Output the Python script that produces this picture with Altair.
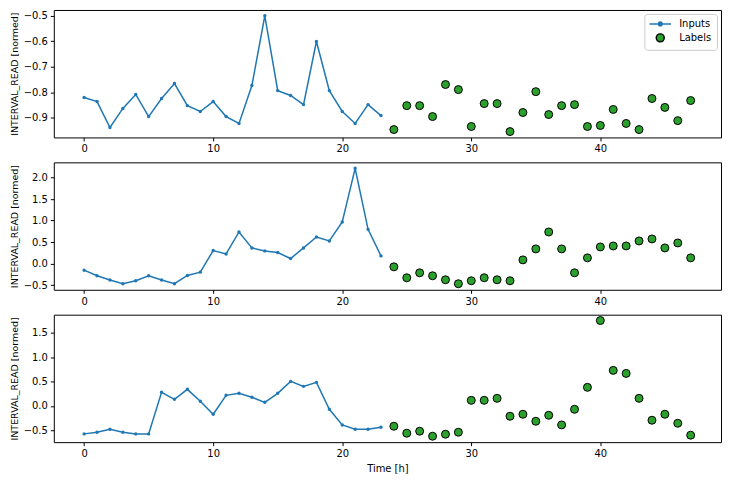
import altair as alt
import pandas as pd

input_hours = [0, 1, 2, 3, 4, 5, 6, 7, 8, 9, 10, 11, 12, 13, 14, 15, 16, 17, 18, 19, 20, 21, 22, 23]
label_hours = [24, 25, 26, 27, 28, 29, 30, 31, 32, 33, 34, 35, 36, 37, 38, 39, 40, 41, 42, 43, 44, 45, 46, 47]

inputs_1 = [-0.821, -0.837, -0.939, -0.864, -0.809, -0.896, -0.825, -0.766, -0.853, -0.876,
            -0.837, -0.896, -0.923, -0.774, -0.500, -0.794, -0.813, -0.849, -0.601, -0.794,
            -0.876, -0.923, -0.849, -0.892]
labels_1 = [-0.947, -0.853, -0.853, -0.896, -0.770, -0.790, -0.935, -0.845, -0.845, -0.955,
            -0.880, -0.798, -0.888, -0.853, -0.849, -0.935, -0.931, -0.868, -0.923, -0.947,
            -0.825, -0.860, -0.912, -0.833]

inputs_2 = [-0.153, -0.284, -0.384, -0.469, -0.400, -0.284, -0.384, -0.469, -0.276, -0.199,
            0.302, 0.225, 0.735, 0.364, 0.295, 0.256, 0.117, 0.364, 0.619, 0.526,
            0.966, 2.216, 0.796, 0.179]
labels_2 = [-0.076, -0.330, -0.215, -0.284, -0.377, -0.469, -0.400, -0.330, -0.377, -0.400,
            0.086, 0.341, 0.735, 0.341, -0.215, 0.133, 0.387, 0.410, 0.410, 0.526,
            0.573, 0.364, 0.480, 0.133]

inputs_3 = [-0.575, -0.541, -0.480, -0.541, -0.575, -0.575, 0.278, 0.135, 0.340, 0.094,
            -0.172, 0.217, 0.258, 0.176, 0.073, 0.258, 0.503, 0.401, 0.483, -0.070,
            -0.391, -0.480, -0.480, -0.439]
labels_3 = [-0.418, -0.561, -0.520, -0.623, -0.582, -0.541, 0.114, 0.114, 0.155, -0.213,
            -0.172, -0.316, -0.193, -0.391, -0.070, 0.381, 1.753, 0.729, 0.667, 0.155,
            -0.295, -0.172, -0.357, -0.602]

series_names = ["Inputs", "Labels"]
y_domains = [[-0.978, -0.477], [-0.61, 2.355], [-0.745, 1.873]]
y_ticks = [[-0.9, -0.8, -0.7, -0.6, -0.5], [-0.5, 0.0, 0.5, 1.0, 1.5, 2.0], [-0.5, 0.0, 0.5, 1.0, 1.5]]
x_ticks = [0, 10, 20, 30, 40]

BLUE = "#1f77b4"
GREEN = "#2ca02c"

stroke_scale = alt.Scale(domain=series_names, range=[BLUE, "black"])
fill_scale = alt.Scale(domain=series_names, range=[BLUE, GREEN])
shape_scale = alt.Scale(
    domain=series_names,
    range=["M-2.7,0H2.7M0.45,0A0.45,0.45 0 1,1 -0.45,0A0.45,0.45 0 1,1 0.45,0", "circle"],
)


def panel(inputs, labels, ydom, yticks, show_legend, show_xtitle):
    df_in = pd.DataFrame({"t": input_hours, "v": inputs, "series": "Inputs"})
    df_lab = pd.DataFrame({"t": label_hours, "v": labels, "series": "Labels"})
    x = alt.X("t:Q", scale=alt.Scale(domain=[-2.35, 49.35], nice=False, zero=False),
              axis=alt.Axis(values=x_ticks, title="Time [h]" if show_xtitle else None, titlePadding=5))
    y = alt.Y("v:Q", scale=alt.Scale(domain=ydom, nice=False, zero=False),
              axis=alt.Axis(values=yticks, format=".1f", title="INTERVAL_READ [normed]",
                            titlePadding=4, titleFontSize=9.5))
    if show_legend:
        leg = alt.Legend(orient="top-right", title=None, offset=4, padding=5,
                         strokeColor="#cccccc", fillColor="white", cornerRadius=3,
                         symbolSize=64, symbolOffset=6, labelOffset=14, rowPadding=2,
                         labelFontSize=10, labelFont="DejaVu Sans", labelColor="black",
                         symbolStrokeWidth=1.5)
        line = alt.Chart(df_in).mark_line(strokeWidth=1.5).encode(
            x=x, y=y, stroke=alt.Stroke("series:N", scale=stroke_scale, legend=leg))
        pts = alt.Chart(df_lab).mark_point(filled=True, size=64, opacity=1, strokeWidth=1).encode(
            x=x, y=y,
            fill=alt.Fill("series:N", scale=fill_scale, legend=leg),
            stroke=alt.Stroke("series:N", scale=stroke_scale, legend=leg),
            shape=alt.Shape("series:N", scale=shape_scale, legend=leg))
    else:
        line = alt.Chart(df_in).mark_line(strokeWidth=1.5, color=BLUE).encode(x=x, y=y)
        pts = alt.Chart(df_lab).mark_point(filled=True, size=64, opacity=1, fill=GREEN,
                                           stroke="black", strokeWidth=1).encode(x=x, y=y)
    dots = alt.Chart(df_in).mark_point(filled=True, size=12, color=BLUE, opacity=1).encode(x=x, y=y)
    return alt.layer(line, dots, pts).properties(width=670, height=128)


chart = alt.vconcat(
    panel(inputs_1, labels_1, y_domains[0], y_ticks[0], True, False),
    panel(inputs_2, labels_2, y_domains[1], y_ticks[1], False, False),
    panel(inputs_3, labels_3, y_domains[2], y_ticks[2], False, True),
    spacing=7,
).properties(
    padding={"left": 0, "top": 0, "right": 0, "bottom": 0},
    background="white",
).configure_view(
    stroke="black", strokeWidth=1
).configure_axis(
    grid=False, domain=False, tickColor="black", tickSize=3.5, labelPadding=3,
    labelFont="DejaVu Sans", labelFontSize=10, labelColor="black",
    titleFont="DejaVu Sans", titleFontSize=10, titleFontWeight="normal", titleColor="black",
)

chart.save("out.html", embed_options={"renderer": "svg", "actions": False})
